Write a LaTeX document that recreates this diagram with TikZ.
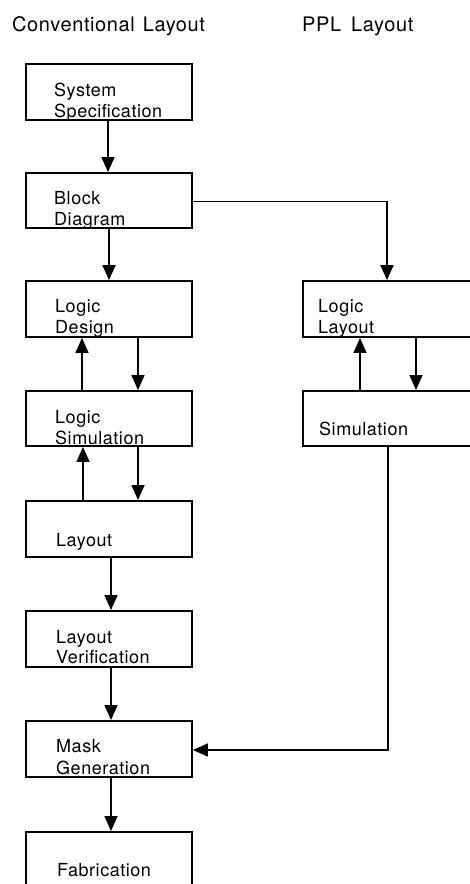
\documentclass[tikz,border=0pt]{standalone}
\usepackage{fontspec}
\usetikzlibrary{arrows.meta}
\newfontfamily\lblfont[LetterSpace=3]{TeX Gyre Heros}
\tikzset{
  box/.style={draw, line width=1.9pt, minimum width=166pt, inner sep=0pt},
  rbox/.style={draw, line width=1.9pt, minimum width=177pt, inner sep=0pt},
  txt/.style={anchor=base west, inner sep=0pt, font=\lblfont\fontsize{18}{21}\selectfont},
  ttl/.style={anchor=base west, inner sep=0pt, font=\lblfont\fontsize{20}{24}\selectfont},
  arr/.style={line width=1.6pt, -{Triangle[length=15pt,width=13pt]}},
  ln/.style={line width=1.6pt}
}
\begin{document}
\begin{tikzpicture}[x=1pt,y=-1pt]
\useasboundingbox (0,0) rectangle (470,884);
% titles
\node[ttl] (t1) at (12,31) {Conventional\hspace{8pt}Layout};
\node[ttl] (t2) at (302,31) {PPL\hspace{10pt}Layout};
% left column boxes
\node[box, minimum height=56pt] (ss) at (109,92) {};
\node[box, minimum height=55pt] (bd) at (109,200.5) {};
\node[box, minimum height=56pt] (ld) at (109,309) {};
\node[box, minimum height=55pt] (ls) at (109,418.5) {};
\node[box, minimum height=56pt] (la) at (109,529) {};
\node[box, minimum height=56pt] (lv) at (109,639) {};
\node[box, minimum height=56pt] (mg) at (109,749) {};
\node[box, minimum height=70pt] (fb) at (109,867) {};
% right column boxes
\node[rbox, minimum height=56pt] (ll) at (391.5,309) {};
\node[rbox, minimum height=55pt] (sm) at (391.5,418.5) {};
% texts
\node[txt] (ss1) at (54,96) {System};
\node[txt] (ss2) at (54,117) {Specification};
\node[txt] (bd1) at (54,204) {Block};
\node[txt] (bd2) at (54,225) {Diagram};
\node[txt] (ld1) at (55,312) {Logic};
\node[txt] (ld2) at (55,333) {Design};
\node[txt] (ls1) at (55,423) {Logic};
\node[txt] (ls2) at (55,444) {Simulation};
\node[txt] (la1) at (56,546) {Layout};
\node[txt] (lv1) at (56,643) {Layout};
\node[txt] (lv2) at (56,663) {Verification};
\node[txt] (mg1) at (56,752) {Mask};
\node[txt] (mg2) at (56,774) {Generation};
\node[txt] (fb1) at (57,876) {Fabrication};
\node[txt] (ll1) at (318,312) {Logic};
\node[txt] (ll2) at (318,333) {Layout};
\node[txt] (sm1) at (319,435) {Simulation};
% connectors, left column
\draw[arr] ([xshift=-1pt]ss.south) -- ([xshift=-1pt]bd.north);
\draw[arr] ([xshift=0pt]bd.south) -- ([xshift=0pt]ld.north);
\draw[arr] ([xshift=-27pt]ls.north) -- ([xshift=-27pt]ld.south);
\draw[arr] ([xshift=29pt]ld.south) -- ([xshift=29pt]ls.north);
\draw[arr] ([xshift=-26pt]la.north) -- ([xshift=-26pt]ls.south);
\draw[arr] ([xshift=29pt]ls.south) -- ([xshift=29pt]la.north);
\draw[arr] ([xshift=2pt]la.south) -- ([xshift=2pt]lv.north);
\draw[arr] ([xshift=2pt]lv.south) -- ([xshift=2pt]mg.north);
\draw[arr] ([xshift=2pt]mg.south) -- ([xshift=2pt]fb.north);
% connectors, right column
\draw[arr] ([yshift=-1pt]bd.east) -| ([xshift=-4.5pt]ll.north);
\draw[arr] ([xshift=-31.5pt]sm.north) -- ([xshift=-31.5pt]ll.south);
\draw[arr] ([xshift=24.5pt]ll.south) -- ([xshift=24.5pt]sm.north);
\draw[arr] ([xshift=-3.5pt]sm.south) |- ([yshift=-1pt]mg.east);
\end{tikzpicture}
\end{document}
